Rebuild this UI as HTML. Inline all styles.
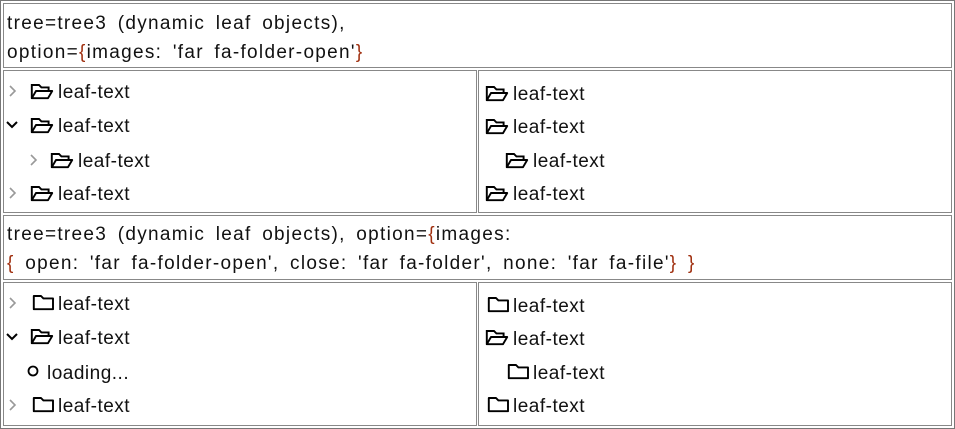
<!DOCTYPE html>
<html><head><meta charset="utf-8"><style>
body{margin:0;width:955px;height:429px;background:#fff;position:relative;overflow:hidden;font-family:"Liberation Sans","Noto Sans CJK JP",sans-serif;font-size:19px;color:#111}
.b{position:absolute;border:1px solid #888;box-sizing:border-box}
.t{position:absolute;white-space:nowrap;line-height:20px;letter-spacing:0.5px;margin-top:2px}
.h{letter-spacing:1.3px;word-spacing:4px}
.c{color:#a03010}
svg{position:absolute}
</style></head><body>
<div class="b" style="left:0;top:0;width:955px;height:429px;border-color:#777"></div>
<div class="b" style="left:3px;top:3px;width:949px;height:65px"></div>
<div class="b" style="left:3px;top:70px;width:474px;height:143px"></div>
<div class="b" style="left:478px;top:70px;width:474px;height:143px"></div>
<div class="b" style="left:3px;top:215px;width:949px;height:65px"></div>
<div class="b" style="left:3px;top:282px;width:474px;height:144px"></div>
<div class="b" style="left:478px;top:282px;width:474px;height:144px"></div>

<div class="t h" style="left:7px;top:12px">tree=tree3 (dynamic leaf objects),</div>
<div class="t h" style="left:7px;top:41px">option=<span class="c">{</span>images: 'far fa-folder-open'<span class="c">}</span></div>
<div class="t h" style="left:7px;top:223px">tree=tree3 (dynamic leaf objects), option=<span class="c">{</span>images:</div>
<div class="t h" style="left:7px;top:252px"><span class="c">{</span> open: 'far fa-folder-open', close: 'far fa-folder', none: 'far fa-file'<span class="c">}</span> <span class="c">}</span></div>

<svg width="0" height="0"><defs>
<g id="fo"><path d="M1.5 13.5V2.5h6l2 2h6v3" fill="none" stroke="#000" stroke-width="1.6"/><path d="M1.5 13.5l3.5-6h13.5l-3.5 6z" fill="none" stroke="#000" stroke-width="1.6" stroke-linejoin="round"/></g>
<g id="fc"><path d="M1.5 13.5V2.5h6l2 2h8v9z" fill="none" stroke="#000" stroke-width="1.6" stroke-linejoin="round"/></g>
<path id="ar" d="M2 2l5 5-5 5" fill="none" stroke="#999" stroke-width="1.6"/>
<path id="dn" d="M1 3l5 5 5-5" fill="none" stroke="#000" stroke-width="2"/>
</defs></svg>

<svg style="left:8px;top:84px" width="12" height="14"><use href="#ar"/></svg>
<svg style="left:30px;top:82px" width="24" height="18" viewBox="0 0 20 15"><use href="#fo"/></svg>
<div class="t" style="left:58px;top:81px">leaf-text</div>
<svg style="left:6px;top:119px" width="13" height="12"><use href="#dn"/></svg>
<svg style="left:30px;top:116px" width="24" height="18" viewBox="0 0 20 15"><use href="#fo"/></svg>
<div class="t" style="left:58px;top:115px">leaf-text</div>
<svg style="left:29px;top:153px" width="12" height="14"><use href="#ar"/></svg>
<svg style="left:50px;top:151px" width="24" height="18" viewBox="0 0 20 15"><use href="#fo"/></svg>
<div class="t" style="left:78px;top:150px">leaf-text</div>
<svg style="left:8px;top:186px" width="12" height="14"><use href="#ar"/></svg>
<svg style="left:30px;top:184px" width="24" height="18" viewBox="0 0 20 15"><use href="#fo"/></svg>
<div class="t" style="left:58px;top:183px">leaf-text</div>

<svg style="left:485px;top:84px" width="24" height="18" viewBox="0 0 20 15"><use href="#fo"/></svg>
<div class="t" style="left:513px;top:83px">leaf-text</div>
<svg style="left:485px;top:117px" width="24" height="18" viewBox="0 0 20 15"><use href="#fo"/></svg>
<div class="t" style="left:513px;top:116px">leaf-text</div>
<svg style="left:505px;top:151px" width="24" height="18" viewBox="0 0 20 15"><use href="#fo"/></svg>
<div class="t" style="left:533px;top:150px">leaf-text</div>
<svg style="left:485px;top:184px" width="24" height="18" viewBox="0 0 20 15"><use href="#fo"/></svg>
<div class="t" style="left:513px;top:183px">leaf-text</div>

<svg style="left:8px;top:296px" width="12" height="14"><use href="#ar"/></svg>
<svg style="left:32px;top:293px" width="24" height="18" viewBox="0 0 20 15"><use href="#fc"/></svg>
<div class="t" style="left:58px;top:293px">leaf-text</div>
<svg style="left:6px;top:331px" width="13" height="12"><use href="#dn"/></svg>
<svg style="left:30px;top:327px" width="24" height="18" viewBox="0 0 20 15"><use href="#fo"/></svg>
<div class="t" style="left:58px;top:327px">leaf-text</div>
<svg style="left:27px;top:365px" width="12" height="12"><circle cx="6" cy="6" r="4.5" fill="none" stroke="#000" stroke-width="1.8"/></svg>
<div class="t" style="left:47px;top:362px">loading...</div>
<svg style="left:8px;top:398px" width="12" height="14"><use href="#ar"/></svg>
<svg style="left:32px;top:395px" width="24" height="18" viewBox="0 0 20 15"><use href="#fc"/></svg>
<div class="t" style="left:58px;top:395px">leaf-text</div>

<svg style="left:487px;top:295px" width="24" height="18" viewBox="0 0 20 15"><use href="#fc"/></svg>
<div class="t" style="left:513px;top:295px">leaf-text</div>
<svg style="left:485px;top:328px" width="24" height="18" viewBox="0 0 20 15"><use href="#fo"/></svg>
<div class="t" style="left:513px;top:328px">leaf-text</div>
<svg style="left:507px;top:362px" width="24" height="18" viewBox="0 0 20 15"><use href="#fc"/></svg>
<div class="t" style="left:533px;top:362px">leaf-text</div>
<svg style="left:487px;top:395px" width="24" height="18" viewBox="0 0 20 15"><use href="#fc"/></svg>
<div class="t" style="left:513px;top:395px">leaf-text</div>
</body></html>
